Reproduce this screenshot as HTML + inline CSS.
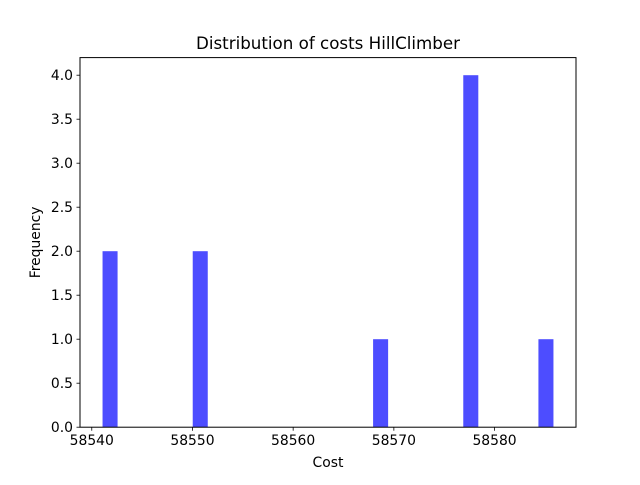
<!DOCTYPE html>
<html><head><meta charset="utf-8"><style>
body{margin:0;background:#fff}
svg text{font-family:"DejaVu Sans","Liberation Sans",sans-serif;fill:#000}
</style></head><body>
<svg id="chart" width="640" height="480" viewBox="0 0 640 480" xmlns="http://www.w3.org/2000/svg">
<rect width="640" height="480" fill="#fff"/>
<text x="328" y="49" font-size="16.7" text-anchor="middle">Distribution of costs HillClimber</text>
<g id="bars"></g>
<g id="xticks"></g>
<g id="yticks"></g>
<rect x="80" y="57.6" width="496" height="369.6" fill="none" stroke="#000" stroke-width="1"/>
<text x="328" y="467" font-size="13.9" text-anchor="middle">Cost</text>
<text x="0" y="0" font-size="13.9" text-anchor="middle" transform="translate(40,242.4) rotate(-90)">Frequency</text>
</svg>
<script>
const dataMin = 58541.07;
const dataMax = 58585.85;
const binCounts = [2,0,0,0,0,0,2,0,0,0,0,0,0,0,0,0,0,0,1,0,0,0,0,0,4,0,0,0,0,1];
const xTickValues = [58540,58550,58560,58570,58580];
const yTickValues = [0,0.5,1,1.5,2,2.5,3,3.5,4];
const yTickLabels = ["0.0","0.5","1.0","1.5","2.0","2.5","3.0","3.5","4.0"];

const NS="http://www.w3.org/2000/svg";
const L=80,R=576,T=57.6,B=427.2;
const span=dataMax-dataMin;
const x0=dataMin-0.05*span,x1=dataMax+0.05*span;
const maxC=Math.max(...binCounts);
const y1=maxC*1.05;
const xs=v=>L+(v-x0)/(x1-x0)*(R-L);
const ys=v=>B-v/y1*(B-T);
function mk(t,a){const e=document.createElementNS(NS,t);for(const k in a)e.setAttribute(k,a[k]);return e;}
const bw=span/binCounts.length;
const bars=document.getElementById('bars');
binCounts.forEach((c,i)=>{
  if(c<=0)return;
  const a=xs(dataMin+i*bw),b=xs(dataMin+(i+1)*bw);
  const r=mk('rect',{x:a,y:ys(c),width:b-a,height:ys(0)-ys(c),fill:'#4d4dff'});
  
  
  bars.appendChild(r);
});
const xt=document.getElementById('xticks');
xTickValues.forEach(v=>{
  const x=xs(v);
  const l=mk('line',{x1:x,x2:x,y1:B,y2:B+3.5,stroke:'#000','stroke-width':0.8});
  
  
  xt.appendChild(l);
  const t=mk('text',{x:x,y:B+18,'font-size':13.9,'text-anchor':'middle'});
  
  
  t.textContent=v;xt.appendChild(t);
});
const yt=document.getElementById('yticks');
yTickValues.forEach((v,i)=>{
  const y=ys(v);
  const l=mk('line',{x1:L-3.5,x2:L,y1:y,y2:y,stroke:'#000','stroke-width':0.8});
  
  
  yt.appendChild(l);
  const t=mk('text',{x:L-7,y:y+5,'font-size':13.9,'text-anchor':'end'});
  
  
  t.textContent=yTickLabels[i];yt.appendChild(t);
});
</script>
</body></html>
